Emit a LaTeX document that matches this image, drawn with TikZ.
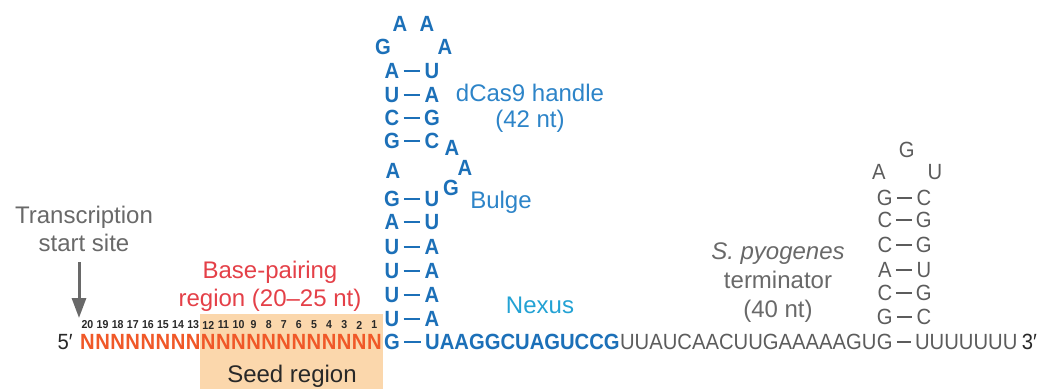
\documentclass[tikz,border=0pt]{standalone}
\usepackage{fontspec}
\setmainfont{Liberation Sans}
\newfontfamily\seqfont[FakeStretch=0.92]{Liberation Sans}
\usetikzlibrary{arrows.meta}
\definecolor{seqblue}{RGB}{28,112,184}
\definecolor{lblblue}{RGB}{45,132,200}
\definecolor{nexcyan}{RGB}{35,162,212}
\definecolor{nred}{RGB}{240,88,40}
\definecolor{bpred}{RGB}{228,64,72}
\definecolor{termgray}{RGB}{92,92,92}
\definecolor{labelgray}{RGB}{105,105,105}
\definecolor{seedfill}{RGB}{251,215,172}
\definecolor{darktext}{RGB}{40,40,40}
\begin{document}
\begin{tikzpicture}[x=1pt,y=-1pt,
  nt/.style={inner sep=0pt,font=\seqfont\fontsize{22}{24}\selectfont\bfseries},
  handle/.style={nt,text=seqblue},
  guide/.style={nt,text=nred},
  term/.style={inner sep=0pt,font=\seqfont\fontsize{22}{24}\selectfont,text=termgray},
  bond/.style={line width=2pt,shorten <=4pt,shorten >=4pt},
  lbl/.style={inner sep=0pt,align=center,font=\fontsize{24}{28}\selectfont},
  idx/.style={inner sep=0pt,font=\seqfont\fontsize{11.5}{12}\selectfont\bfseries,text=darktext}]
  \useasboundingbox (0,0) rectangle (1042,389);
  % Seed region
  \fill[seedfill] (200,314) rectangle (383,389);
  \node[lbl,text=darktext] (seed) at (292,376) {Seed region};
  % Transcription start site
  \node[lbl,text=labelgray] (tss) at (84,229) {Transcription\\start site};
  \coordinate (tssend) at (79,318);
  \draw[line width=3pt,labelgray,-{Triangle[width=14pt,length=20pt]},shorten <=10pt]
    (tss.south -| tssend) -- (tssend);
  % Guide
  \node[lbl,text=bpred] (bp) at (270,286) {Base-pairing\\region (20--25 nt)};
  \foreach \i in {1,...,20} {
    \node[guide] (n\i) at ({87.5+15.1*(20-\i)},342) {N};
    \node[idx] (num\i) at ({87.5+15.1*(20-\i)},325) {\i};
  }
  \node[term,text=darktext,anchor=east] (five) at ([xshift=-7pt]n20.west) {5′};
  % dCas9 handle
  \node[handle] (hg) at (392,342) {G};
  \node[handle,anchor=west] (nexseq) at (425,342) {UAAGGCUAGUCCG};
  \draw[bond,seqblue] (hg) -- (nexseq);
  \foreach \y/\l/\r [count=\k] in {319/U/A,295/U/A,271/U/A,247/U/A,222/A/U,199/G/U,
                                   141/G/C,118/C/G,95/U/A,71/A/U} {
    \node[handle] (hl\k) at (392,\y) {\l};
    \node[handle] (hr\k) at (432,\y) {\r};
    \draw[bond,seqblue] (hl\k) -- (hr\k);
  }
  \foreach \x/\y/\b [count=\k] in {393/171/A,451/188/G,465/168/A,452/148/A,
                                   383/47/G,400/24/A,427/24/A,445/47/A}
    \node[handle] (hu\k) at (\x,\y) {\b};
  \node[lbl,text=lblblue,font=\fontsize{24}{26}\selectfont] (handlelbl) at (530,108) {dCas9 handle\\(42 nt)};
  \node[lbl,text=lblblue] (bulge) at (501,202) {Bulge};
  \node[lbl,text=nexcyan] (nexus) at (540,305) {Nexus};
  % Terminator
  \node[term,anchor=base west] (termseq) at (nexseq.base east) {UUAUCAACUUGAAAAAGU};
  \node[term,anchor=base west] (tg) at (termseq.base east) {G};
  \node[term,anchor=west] (tail) at ([xshift=22pt]tg.east) {UUUUUUU};
  \node[term,text=darktext,anchor=base west] (three) at ([xshift=4pt]tail.base east) {3′};
  \draw[bond,termgray] (tg) -- (tail);
  \foreach \d/\l/\r [count=\k] in {25/G/C,49/C/G,72/A/U,97/C/G,122/C/G,144/G/C} {
    \node[term] (tl\k) at ([yshift=\d pt]tg.center) {\l};
    \node[term] (tr\k) at ([xshift=39pt,yshift=\d pt]tg.center) {\r};
    \draw[bond,termgray] (tl\k) -- (tr\k);
  }
  \node[term] (ta) at ([xshift=-6pt,yshift=170pt]tg.center) {A};
  \node[term] (tgt) at ([xshift=22pt,yshift=192pt]tg.center) {G};
  \node[term] (tu) at ([xshift=50pt,yshift=170pt]tg.center) {U};
  \node[lbl,text=labelgray,font=\fontsize{24}{29}\selectfont] (termlbl) at (778,283)
    {\textit{S. pyogenes}\\terminator\\(40 nt)};
\end{tikzpicture}
\end{document}
